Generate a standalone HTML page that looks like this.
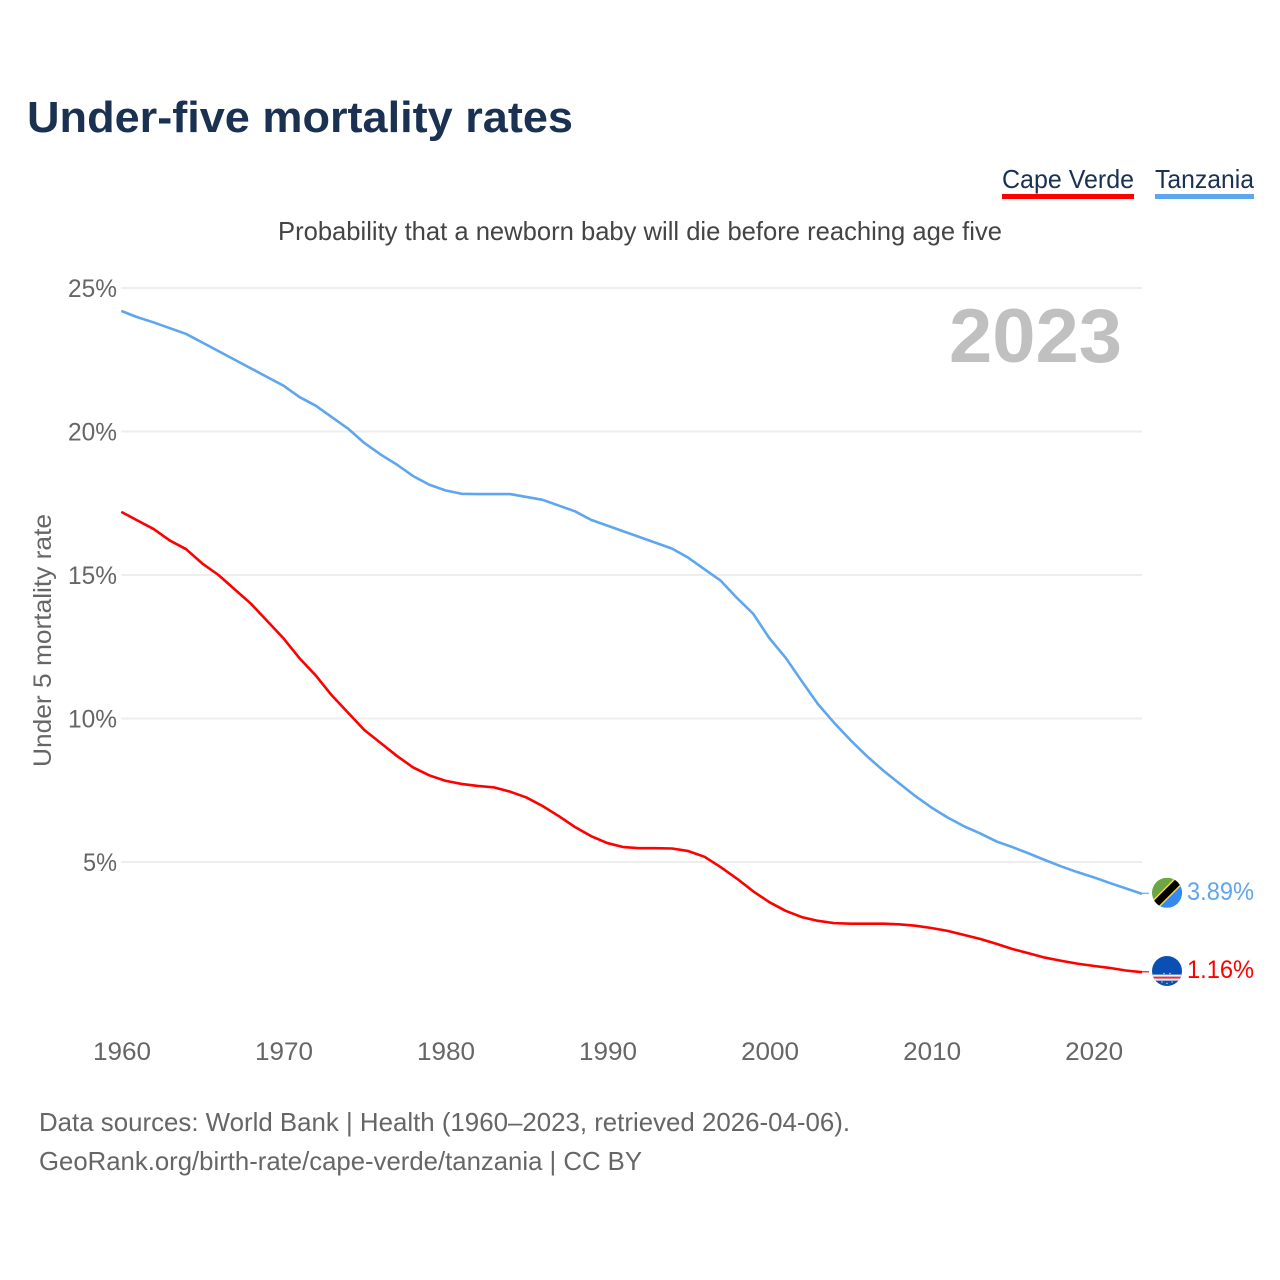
<!DOCTYPE html>
<html lang="en">
<head>
<meta charset="utf-8">
<title>Under-five mortality rates</title>
<style>
html,body{margin:0;padding:0;background:#fff;}
svg{display:block;font-family:"Liberation Sans",sans-serif;}
</style>
</head>
<body>
<svg id="chart" xmlns="http://www.w3.org/2000/svg" width="1280" height="1280" viewBox="0 0 1280 1280">
  <defs>
    <clipPath id="flag-clip-tz"><circle cx="0" cy="0" r="15"/></clipPath>
    <clipPath id="flag-clip-cv"><circle cx="0" cy="0" r="15"/></clipPath>
  </defs>
  <rect x="0" y="0" width="1280" height="1280" fill="#fff"/>
  <text x="27" y="132" font-size="44" font-weight="700" fill="#1a3152" textLength="546" lengthAdjust="spacingAndGlyphs">Under-five mortality rates</text>

  <g>
    <g>
      <text x="1002" y="188" font-size="26" fill="#1a3152" textLength="132" lengthAdjust="spacingAndGlyphs">Cape Verde</text>
      <rect x="1002" y="194" width="132" height="5" fill="#ff0000"/>
    </g>
    <g>
      <text x="1155" y="188" font-size="26" fill="#1a3152" textLength="99" lengthAdjust="spacingAndGlyphs">Tanzania</text>
      <rect x="1155" y="194" width="99" height="5" fill="#5ea6ee"/>
    </g>
  </g>

  <text x="278" y="240" font-size="26" fill="#444" textLength="724" lengthAdjust="spacingAndGlyphs">Probability that a newborn baby will die before reaching age five</text>

  <text transform="translate(51,640.5) rotate(-90)" text-anchor="middle" font-size="25" fill="#666" textLength="253" lengthAdjust="spacingAndGlyphs">Under 5 mortality rate</text>

  <g id="grid"></g>
  <g id="y-ticks"></g>
  <g id="x-ticks"></g>

  <text x="949" y="362" font-size="76" font-weight="700" fill="#c0c0c0" textLength="173" lengthAdjust="spacingAndGlyphs">2023</text>

  <g id="series"></g>

  <g id="flag-tz">
    <g clip-path="url(#flag-clip-tz)">
      <rect x="-15" y="-15" width="30" height="30" fill="#6da544"/>
      <polygon points="15,-15 15,15 -15,15" fill="#338af3"/>
      <polygon points="-15,8 8,-15 15,-15 15,-8 -8,15 -15,15" fill="#ffda44"/>
      <polygon points="-15,10 10,-15 15,-15 15,-10 -10,15 -15,15" fill="#000"/>
    </g>
  </g>
  <g id="flag-cv">
    <g clip-path="url(#flag-clip-cv)">
      <rect x="-15" y="-15" width="30" height="30" fill="#0a50b4"/>
      <rect x="-15" y="3.6" width="30" height="6" fill="#f5f5f5"/>
      <rect x="-15" y="5.6" width="30" height="2" fill="#e8303c"/>
      <circle cx="-3" cy="2.5" r="0.7" fill="#ffda44"/>
      <circle cx="3" cy="2.5" r="0.7" fill="#ffda44"/>
      <circle cx="-5" cy="11" r="0.7" fill="#ffda44"/>
      <circle cx="0" cy="12.5" r="0.7" fill="#ffda44"/>
      <circle cx="5" cy="11" r="0.7" fill="#ffda44"/>
    </g>
  </g>

  <g id="end-labels"></g>

  <text x="39" y="1131" font-size="26" fill="#666" textLength="811" lengthAdjust="spacingAndGlyphs">Data sources: World Bank | Health (1960–2023, retrieved 2026-04-06).</text>
  <text x="39" y="1170" font-size="26" fill="#666" textLength="603" lengthAdjust="spacingAndGlyphs">GeoRank.org/birth-rate/cape-verde/tanzania | CC BY</text>
</svg>

<script>
const startYear = 1960;
const yTickValues = [5, 10, 15, 20, 25];
const xTickValues = [1960, 1970, 1980, 1990, 2000, 2010, 2020];
const capeVerde = [17.2,16.9,16.6,16.2,15.9,15.4,15.0,14.5,14.0,13.4,12.8,12.1,11.5,10.8,10.2,9.6,9.15,8.7,8.3,8.02,7.83,7.72,7.65,7.6,7.45,7.25,6.95,6.6,6.22,5.9,5.66,5.52,5.48,5.48,5.47,5.38,5.18,4.82,4.42,3.98,3.6,3.3,3.08,2.95,2.87,2.85,2.85,2.85,2.83,2.78,2.7,2.6,2.46,2.32,2.15,1.97,1.82,1.67,1.56,1.46,1.38,1.31,1.22,1.16];
const tanzania = [24.2,23.98,23.8,23.6,23.4,23.1,22.8,22.5,22.2,21.9,21.6,21.2,20.9,20.5,20.1,19.6,19.2,18.85,18.45,18.15,17.95,17.83,17.82,17.82,17.82,17.72,17.62,17.42,17.22,16.92,16.72,16.52,16.32,16.12,15.92,15.6,15.2,14.8,14.2,13.65,12.8,12.12,11.3,10.5,9.85,9.25,8.7,8.2,7.75,7.3,6.9,6.55,6.25,6.0,5.72,5.52,5.3,5.07,4.85,4.65,4.47,4.27,4.08,3.89];

const SVG_NS = 'http://www.w3.org/2000/svg';
const plotLeft = 121.3;
const plotRight = 1142;
const x = function (year) { return plotLeft + (year - startYear) * (plotRight - plotLeft) / 63; };
const y = function (value) { return 1005.5 - value * 28.7; };

function make(tag, attrs, parent, content) {
  const el = document.createElementNS(SVG_NS, tag);
  Object.keys(attrs).forEach(function (k) { el.setAttribute(k, attrs[k]); });
  if (content !== undefined) el.textContent = content;
  parent.appendChild(el);
  return el;
}

const gridGroup = document.getElementById('grid');
const yTickGroup = document.getElementById('y-ticks');
yTickValues.forEach(function (v) {
  const line = make('line', {x1: plotLeft, x2: plotRight, y1: y(v), y2: y(v), stroke: '#eeeeee', 'stroke-width': 2}, gridGroup);
  
  
  const label = make('text', {x: 117, y: y(v) + 9, 'text-anchor': 'end', 'font-size': 25, fill: '#666', textLength: v >= 10 ? 49 : 34, lengthAdjust: 'spacingAndGlyphs'}, yTickGroup, v + '%');
  
  
});

const xTickGroup = document.getElementById('x-ticks');
xTickValues.forEach(function (year) {
  const label = make('text', {x: x(year) + 0.7, y: 1060, 'text-anchor': 'middle', 'font-size': 25, fill: '#666', textLength: 58, lengthAdjust: 'spacingAndGlyphs'}, xTickGroup, String(year));
  
  
});

function linePath(values) {
  return values.map(function (v, i) {
    return (i ? 'L' : 'M') + x(startYear + i).toFixed(2) + ' ' + y(v).toFixed(2);
  }).join(' ');
}

const seriesGroup = document.getElementById('series');
const tzLine = make('path', {d: linePath(tanzania), fill: 'none', stroke: '#5ea6ee', 'stroke-width': 2.6, 'stroke-linejoin': 'round'}, seriesGroup);


const cvLine = make('path', {d: linePath(capeVerde), fill: 'none', stroke: '#ff0000', 'stroke-width': 2.6, 'stroke-linejoin': 'round'}, seriesGroup);



const tzLast = tanzania[tanzania.length - 1];
const cvLast = capeVerde[capeVerde.length - 1];
const tzConnector = make('line', {x1: plotRight, x2: 1149, y1: y(tzLast) - 0.5, y2: y(tzLast) - 0.5, stroke: '#5ea6ee', 'stroke-width': 1.5, 'stroke-opacity': 0.8}, seriesGroup);


const cvConnector = make('line', {x1: plotRight, x2: 1149, y1: y(cvLast) - 0.5, y2: y(cvLast) - 0.5, stroke: '#ff0000', 'stroke-width': 1.5, 'stroke-opacity': 0.8}, seriesGroup);



document.getElementById('flag-tz').setAttribute('transform', 'translate(1167,' + (y(tzLast) - 1.1) + ')');
document.getElementById('flag-cv').setAttribute('transform', 'translate(1167,' + (y(cvLast) - 1.2) + ')');

const endGroup = document.getElementById('end-labels');
const tzLabel = make('text', {x: 1187, y: y(tzLast) + 6, 'font-size': 25, fill: '#5ea6ee', textLength: 67, lengthAdjust: 'spacingAndGlyphs'}, endGroup, tzLast.toFixed(2) + '%');


const cvLabel = make('text', {x: 1187, y: y(cvLast) + 6, 'font-size': 25, fill: '#ff0000', textLength: 67, lengthAdjust: 'spacingAndGlyphs'}, endGroup, cvLast.toFixed(2) + '%');


</script>
</body>
</html>
